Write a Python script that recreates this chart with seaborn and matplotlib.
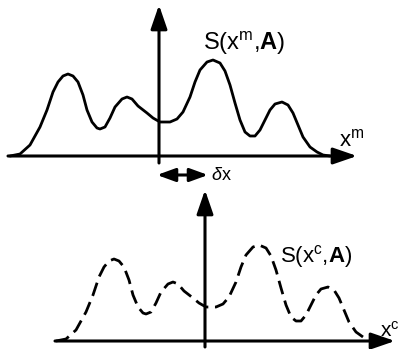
import numpy as np
import pandas as pd
import matplotlib
matplotlib.use("Agg")
import matplotlib.pyplot as plt
import seaborn as sns

# ---- data (pixel units, relative to each panel's origin) ----
x_rel = [-149, -139, -129, -119, -112, -106, -101, -96, -91, -86, -81, -76, -72, -67,
         -62, -59, -54, -49, -44, -37, -32, -27, -21, -12, -6, 1, 11, 18, 24, 31,
         36, 41, 48, 54, 61, 66, 71, 76, 81, 86, 91, 96, 101, 106, 111, 116, 123,
         129, 134, 139, 144, 151, 158, 164, 171]
signal = [0, 2, 11, 29, 46, 64, 74, 80, 82, 80, 74, 61, 46, 34,
          28, 27, 29, 38, 49, 57, 59, 57, 50, 43, 38, 34, 34, 37, 44, 59,
          74, 86, 94, 96, 93, 85, 71, 53, 36, 24, 20, 20, 26, 36, 46, 52, 54,
          51, 43, 31, 19, 9, 4, 1, 0]
delta_x = 46  # shift between the measured and the calculated frames

label_top = r"S(x$^{\mathrm{m}}$,$\mathbf{A}$)"
label_bot = r"S(x$^{\mathrm{c}}$,$\mathbf{A}$)"
axis_top = r"x$^{\mathrm{m}}$"
axis_bot = r"x$^{\mathrm{c}}$"
shift_label = r"$\delta$x"

# ---- layout ----
W, H = 400, 349
top_origin = (159, 156)
bot_origin = (top_origin[0] + delta_x, 341)

sns.set_theme(style="white")
plt.rcParams["font.family"] = ["Liberation Sans", "DejaVu Sans"]
plt.rcParams["text.color"] = "black"
plt.rcParams["mathtext.fontset"] = "custom"
plt.rcParams["mathtext.rm"] = "Liberation Sans"
plt.rcParams["mathtext.it"] = "Liberation Sans:italic"
plt.rcParams["mathtext.bf"] = "Liberation Sans:bold"

fig = plt.figure(figsize=(W / 100, H / 100), dpi=100)
ax = fig.add_axes([0, 0, 1, 1])
ax.set_xlim(0, W)
ax.set_ylim(H, 0)
ax.axis("off")

df = pd.DataFrame({"x": x_rel, "s": signal})
top = pd.DataFrame({"x": df.x + top_origin[0], "y": top_origin[1] - df.s})
bot = pd.DataFrame({"x": df.x + bot_origin[0], "y": bot_origin[1] - df.s})

sns.lineplot(data=top, x="x", y="y", ax=ax, color="black", lw=2.0,
             estimator=None, sort=False)
sns.lineplot(data=bot, x="x", y="y", ax=ax, color="black", lw=2.0,
             estimator=None, sort=False, linestyle=(0, (5, 2.4)))
for ln in ax.lines:
    ln.set_solid_joinstyle("round")
    ln.set_dash_joinstyle("round")


def arrow(x0, y0, x1, y1, style="-|>", hl=1.45, hw=0.5, lw=2.2):
    ax.annotate("", xy=(x1, y1), xytext=(x0, y0),
                arrowprops=dict(arrowstyle=f"{style},head_length={hl},head_width={hw}",
                                lw=lw, color="black", shrinkA=0, shrinkB=0,
                                mutation_scale=10))


# top frame axes
arrow(top_origin[0], top_origin[1] + 7, top_origin[0], 5)
arrow(8, top_origin[1], 357, top_origin[1])
# bottom frame axes
arrow(bot_origin[0], bot_origin[1] + 6, bot_origin[0], 190)
arrow(55, bot_origin[1], 395, bot_origin[1])
# shift arrow
arrow(157, 175, 208, 175, style="<|-|>", hl=1.1, hw=0.4, lw=2.2)

ax.text(203, 43, label_top, fontsize=17, va="center", ha="left")
ax.text(339, 140, axis_top, fontsize=16, va="center", ha="left")
ax.text(280, 257, label_bot, fontsize=16, va="center", ha="left")
ax.text(380, 331, axis_bot, fontsize=15, va="center", ha="left")
ax.text(211, 176, shift_label, fontsize=13, va="center", ha="left")

fig.savefig("out.png", dpi=100)
